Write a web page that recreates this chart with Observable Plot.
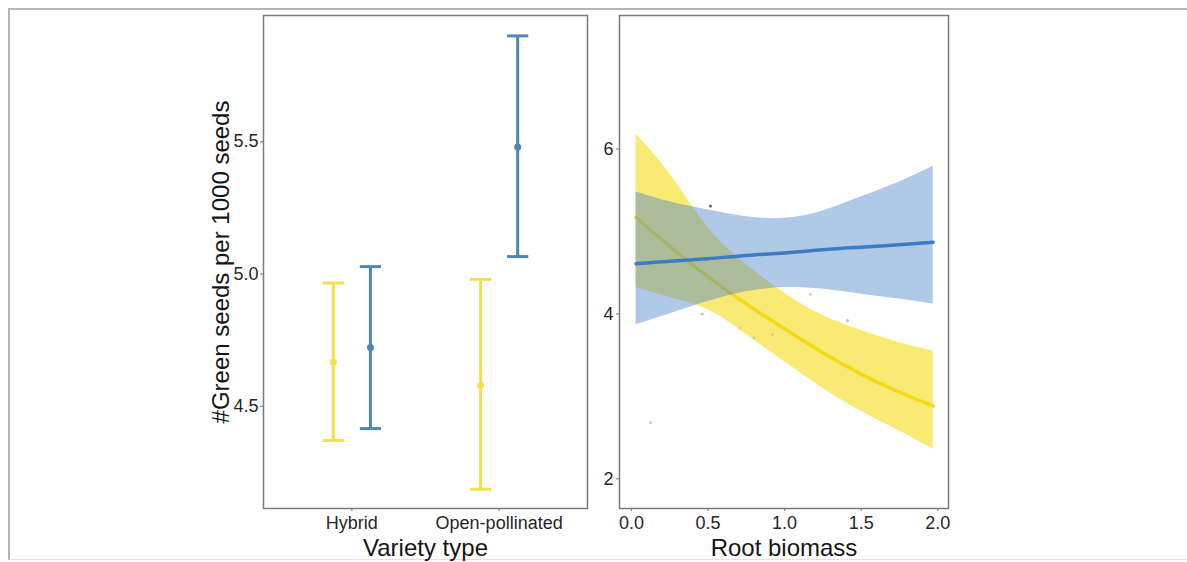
<!DOCTYPE html>
<html>
<head>
<meta charset="utf-8">
<script src="https://cdn.jsdelivr.net/npm/d3@7"></script>
<script src="https://cdn.jsdelivr.net/npm/@observablehq/plot@0.6"></script>
<style>
  html, body { margin: 0; padding: 0; background: #fff; }
  #page { position: relative; width: 1187px; height: 562px; overflow: hidden; background: #fff; }
  #frame { position: absolute; left: 8px; top: 8px; width: 1300px; height: 549px;
           border-top: 2px solid #b4b4b4; border-left: 2px solid #b4b4b4; border-bottom: 1px solid #e2e2e2; }
  .panel { position: absolute; top: 0; }
  .panel svg { overflow: visible; }
  g[aria-label="y-axis tick label"] text, g[aria-label="x-axis tick label"] text { fill: #262626; }
  g[aria-label="y-axis label"] text, g[aria-label="x-axis label"] text { font-size: 24px; fill: #151515; }
</style>
</head>
<body>
<div id="page">
  <div id="frame"></div>
  <div id="left" class="panel" style="left:190px"></div>
  <div id="right" class="panel" style="left:560px"></div>
</div>
<script>
// ---------- Left panel data: means and confidence limits ----------
const varietyTypes = ["Hybrid", "Open-pollinated"];
const seriesNames = ["Series A", "Series B"];           // yellow, blue
const seriesColors = ["#f4df4e", "#4d87b3"];
const meanA  = [4.667, 4.58];
const lowerA = [4.371, 4.187];
const upperA = [4.966, 4.98];
const meanB  = [4.722, 5.48];
const lowerB = [4.416, 5.066];
const upperB = [5.028, 5.90];
const leftYTicks = [4.5, 5.0, 5.5];

// ---------- Right panel data: fitted lines and bands ----------
const biomass = [0.03, 0.25, 0.5, 0.75, 1.0, 1.25, 1.5, 1.75, 1.97];
const fitA   = [5.17, 4.82, 4.45, 4.12, 3.82, 3.53, 3.27, 3.05, 2.885];
const loA    = [4.32, 4.2, 4.05, 3.75, 3.42, 3.1, 2.82, 2.58, 2.36];
const hiA    = [6.18, 5.7, 5.05, 4.6, 4.25, 3.98, 3.8, 3.65, 3.55];
const fitB   = [4.61, 4.64, 4.67, 4.71, 4.74, 4.78, 4.81, 4.84, 4.87];
const loB    = [3.87, 4.0, 4.15, 4.27, 4.32, 4.3, 4.24, 4.18, 4.12];
const hiB    = [5.48, 5.36, 5.26, 5.18, 5.16, 5.25, 5.42, 5.6, 5.79];
const rightXTicks = [0, 0.5, 1.0, 1.5, 2.0];
const rightYTicks = [2, 4, 6];
// faint raw observations visible in the background
const obsX = [0.516, 0.124, 0.462, 0.80, 0.92, 1.17, 1.41, 0.71];
const obsY = [5.31, 2.68, 4.0, 3.71, 3.75, 4.24, 3.92, 3.83];
const obsOpacity = [0.8, 0.25, 0.3, 0.25, 0.25, 0.25, 0.3, 0.2];

// ---------- Build tables ----------
const dodge = 0.126;
const capHalf = 0.072;
const bars = [];
varietyTypes.forEach((v, i) => {
  bars.push({variety: v, series: seriesNames[0], pos: i + 1 - dodge, mean: meanA[i], lo: lowerA[i], hi: upperA[i]});
  bars.push({variety: v, series: seriesNames[1], pos: i + 1 + dodge, mean: meanB[i], lo: lowerB[i], hi: upperB[i]});
});
const caps = bars.flatMap(d => [{...d, y: d.lo}, {...d, y: d.hi}]);

const fits = [];
biomass.forEach((x, i) => {
  fits.push({series: seriesNames[0], x, fit: fitA[i], lo: loA[i], hi: hiA[i]});
  fits.push({series: seriesNames[1], x, fit: fitB[i], lo: loB[i], hi: hiB[i]});
});
const fitsA = fits.filter(d => d.series === seriesNames[0]);
const fitsB = fits.filter(d => d.series === seriesNames[1]);
const obs = obsX.map((x, i) => ({x, y: obsY[i], o: obsOpacity[i]}));

const colorScale = {domain: seriesNames, range: seriesColors};
const font = "'Liberation Sans', Arial, sans-serif";

const left = Plot.plot({
  width: 410, height: 562,
  marginLeft: 73, marginRight: 13, marginTop: 15, marginBottom: 54,
  style: {fontFamily: font, fontSize: "18px", color: "#333", background: "transparent"},
  x: {domain: [0.4, 2.6]},
  y: {domain: [4.114, 5.977]},
  color: colorScale,
  marks: [
    Plot.frame({stroke: "#7a7a7a", strokeWidth: 1.5}),
    Plot.ruleX(bars, {x: "pos", y1: "lo", y2: "hi", stroke: "series", strokeWidth: 3}),
    Plot.link(caps, {x1: d => d.pos - capHalf, x2: d => d.pos + capHalf, y1: "y", y2: "y", stroke: "series", strokeWidth: 3}),
    Plot.dot(bars, {x: "pos", y: "mean", fill: "series", r: 3.5}),
    Plot.axisY({ticks: leftYTicks, tickFormat: d3.format(".1f"), tickSize: 3, tickPadding: 2, stroke: "#777",
      label: "#Green seeds per 1000 seeds", labelAnchor: "center", labelArrow: "none", labelOffset: 52}),
    Plot.axisX({ticks: [1, 2], tickFormat: d => varietyTypes[d - 1], tickSize: 3, tickPadding: 5, stroke: "#777",
      label: "Variety type", labelAnchor: "center", labelArrow: "none", labelOffset: 47})
  ]
});
document.getElementById("left").appendChild(left);

const right = Plot.plot({
  width: 420, height: 562,
  marginLeft: 59, marginRight: 32, marginTop: 15, marginBottom: 54,
  style: {fontFamily: font, fontSize: "18px", color: "#333", background: "transparent"},
  x: {domain: [-0.078, 2.07]},
  y: {domain: [1.64, 7.62]},
  color: colorScale,
  marks: [
    Plot.dot(obs, {x: "x", y: "y", r: 1.5, fill: "#333", fillOpacity: "o"}),
    Plot.areaY(fitsA, {x: "x", y1: "lo", y2: "hi", fill: "#f4d800", fillOpacity: 0.55, curve: "natural"}),
    Plot.line(fitsA, {x: "x", y: "fit", stroke: "#f5d916", strokeWidth: 3.5, curve: "natural"}),
    Plot.areaY(fitsB, {x: "x", y1: "lo", y2: "hi", fill: "#5088cc", fillOpacity: 0.45, curve: "natural"}),
    Plot.line(fitsB, {x: "x", y: "fit", stroke: "#3b7cc5", strokeWidth: 3.5, curve: "natural"}),
    Plot.frame({stroke: "#7a7a7a", strokeWidth: 1.5}),
    Plot.axisY({ticks: rightYTicks, tickFormat: d3.format("d"), tickSize: 3, tickPadding: 3, stroke: "#777", label: null}),
    Plot.axisX({ticks: rightXTicks, tickFormat: d3.format(".1f"), tickSize: 3, tickPadding: 5, stroke: "#777",
      label: "Root biomass", labelAnchor: "center", labelArrow: "none", labelOffset: 47})
  ]
});
document.getElementById("right").appendChild(right);
</script>
</body>
</html>
